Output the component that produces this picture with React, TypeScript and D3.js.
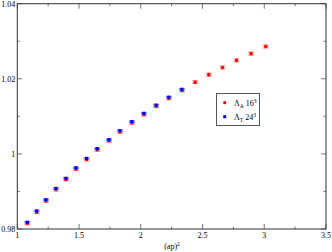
import { useEffect, useRef } from 'react';
import * as d3 from 'd3';

// (ap)^2 values
const apSqA = [1.081, 1.157, 1.232, 1.313, 1.394, 1.475, 1.561, 1.647, 1.742, 1.831, 1.928, 2.025, 2.125, 2.227, 2.333, 2.44, 2.551, 2.662, 2.775, 2.893, 3.012];
const lambdaA = [0.9815, 0.9845, 0.9875, 0.9905, 0.9932, 0.996, 0.9985, 1.0011, 1.0035, 1.0059, 1.0083, 1.0105, 1.0127, 1.0148, 1.0169, 1.0191, 1.0211, 1.023, 1.0249, 1.0267, 1.0286];
const errA = [0.0004, 0.0004, 0.0004, 0.0004, 0.0004, 0.0004, 0.0004, 0.0004, 0.0004, 0.0004, 0.0004, 0.0004, 0.0004, 0.0004, 0.0004, 0.0004, 0.0004, 0.0004, 0.0004, 0.0004, 0.0004];

const apSqT = [1.081, 1.157, 1.232, 1.313, 1.394, 1.475, 1.561, 1.647, 1.742, 1.831, 1.928, 2.025, 2.125, 2.227, 2.333];
const lambdaT = [0.9818, 0.9848, 0.9878, 0.9908, 0.9935, 0.9963, 0.9988, 1.0014, 1.0038, 1.0062, 1.0086, 1.0108, 1.013, 1.0151, 1.0172];
const errT = [0.0002, 0.0002, 0.0002, 0.0002, 0.0002, 0.0002, 0.0002, 0.0002, 0.0002, 0.0002, 0.0002, 0.0002, 0.0002, 0.0002, 0.0002];

const xMajor = [1, 1.5, 2, 2.5, 3, 3.5];
const xMinor = [1.25, 1.75, 2.25, 2.75, 3.25];
const yMajor = [0.98, 1, 1.02, 1.04];
const yMinor = [0.99, 1.01, 1.03];

export default function App() {
    const svgRef = useRef<SVGSVGElement>(null);

    useEffect(() => {
        if (!svgRef.current) return;
        const root = d3.select(svgRef.current);
        root.selectAll('*').remove();

        const left = 17.3, right = 326, top = 3.7, bottom = 229;
        const x = d3.scaleLinear().domain([1, 3.5]).range([left, right]);
        const y = d3.scaleLinear().domain([0.98, 1.04]).range([bottom, top]);
        const font = '"Liberation Serif", "Times New Roman", serif';

        const g = root.append('g');

        // ticks (inward, mirrored on all four sides)
        const tickCol = '#777';
        const ticks = g.append('g').attr('stroke', tickCol).attr('stroke-width', 1);
        xMajor.concat(xMinor).forEach(v => {
            const len = xMajor.includes(v) ? 5 : 2.5;
            ticks.append('line').attr('x1', x(v)).attr('x2', x(v)).attr('y1', bottom).attr('y2', bottom - len);
            ticks.append('line').attr('x1', x(v)).attr('x2', x(v)).attr('y1', top).attr('y2', top + len);
        });
        yMajor.concat(yMinor).forEach(v => {
            const len = yMajor.includes(v) ? 5 : 2.5;
            ticks.append('line').attr('y1', y(v)).attr('y2', y(v)).attr('x1', left).attr('x2', left + len);
            ticks.append('line').attr('y1', y(v)).attr('y2', y(v)).attr('x1', right).attr('x2', right - len);
        });

        // frame
        g.append('rect')
            .attr('x', left).attr('y', top)
            .attr('width', right - left).attr('height', bottom - top)
            .attr('fill', 'none').attr('stroke', '#333').attr('stroke-width', 1);

        // tick labels
        g.selectAll('.xl').data(xMajor).enter().append('text')
            .attr('x', d => x(d)).attr('y', bottom + 9)
            .attr('text-anchor', 'middle')
            .style('font-family', font).style('font-size', '8px')
            .text(d => d3.format('')(d));

        g.selectAll('.yl').data(yMajor).enter().append('text')
            .attr('x', left - 2).attr('y', d => y(d) + 3)
            .attr('text-anchor', 'end')
            .style('font-family', font).style('font-size', '8px')
            .text(d => (d === 1 ? '1' : d3.format('.2f')(d)));

        // axis title
        const xt = g.append('text')
            .attr('x', 172).attr('y', 249)
            .attr('text-anchor', 'middle')
            .style('font-family', font).style('font-size', '8px');
        xt.append('tspan').text('(ap)');
        xt.append('tspan').attr('dy', -3).style('font-size', '5.5px').text('2');

        // series
        const drawSeries = (xs: number[], ys: number[], es: number[], color: string, capColor: string, square: boolean) => {
            const s = g.append('g');
            xs.forEach((xv, i) => {
                const cx = x(xv), cy = y(ys[i]);
                const y1 = y(ys[i] - es[i]), y2 = y(ys[i] + es[i]);
                s.append('line').attr('x1', cx).attr('x2', cx).attr('y1', y1).attr('y2', y2)
                    .attr('stroke', color).attr('stroke-width', 1);
                [y1, y2].forEach(yy => {
                    s.append('line').attr('x1', cx - 3).attr('x2', cx + 3).attr('y1', yy).attr('y2', yy)
                        .attr('stroke', capColor).attr('stroke-width', 1);
                });
                if (square) {
                    s.append('rect').attr('x', cx - 1.6).attr('y', cy - 1.6).attr('width', 3.2).attr('height', 3.2).attr('fill', color);
                } else {
                    s.append('circle').attr('cx', cx).attr('cy', cy).attr('r', 1.8).attr('fill', color);
                }
            });
        };
        drawSeries(apSqA, lambdaA, errA, '#ff0000', '#ff8080', false);
        drawSeries(apSqT, lambdaT, errT, '#0000ff', '#8080ff', true);

        // legend
        const lg = g.append('g');
        lg.append('rect').attr('x', 216.5).attr('y', 93.5).attr('width', 43).attr('height', 32)
            .attr('fill', 'white').attr('stroke', '#555').attr('stroke-width', 1);
        const items = [
            { color: '#ff0000', sub: 'A', size: '16', square: false },
            { color: '#0000ff', sub: 'T', size: '24', square: true }
        ];
        items.forEach((it, i) => {
            const cy = 102.7 + i * 14;
            if (it.square) {
                lg.append('rect').attr('x', 223.2).attr('y', cy - 1.5).attr('width', 3).attr('height', 3).attr('fill', it.color);
            } else {
                lg.append('circle').attr('cx', 224.7).attr('cy', cy).attr('r', 1.6).attr('fill', it.color);
            }
            const t = lg.append('text').attr('x', 234).attr('y', cy + 3)
                .style('font-family', font).style('font-size', '8px');
            t.append('tspan').text('Λ');
            t.append('tspan').attr('dy', 2).style('font-size', '5.5px').text(it.sub);
            t.append('tspan').attr('dy', -2).text(' ' + it.size);
            t.append('tspan').attr('dy', -3).style('font-size', '5.5px').text('3');
        });
    }, []);

    return (
        <svg
            ref={svgRef}
            width={332}
            height={252}
            style={{ position: 'absolute', left: 0, top: 0, background: 'white' }}
        />
    );
}
